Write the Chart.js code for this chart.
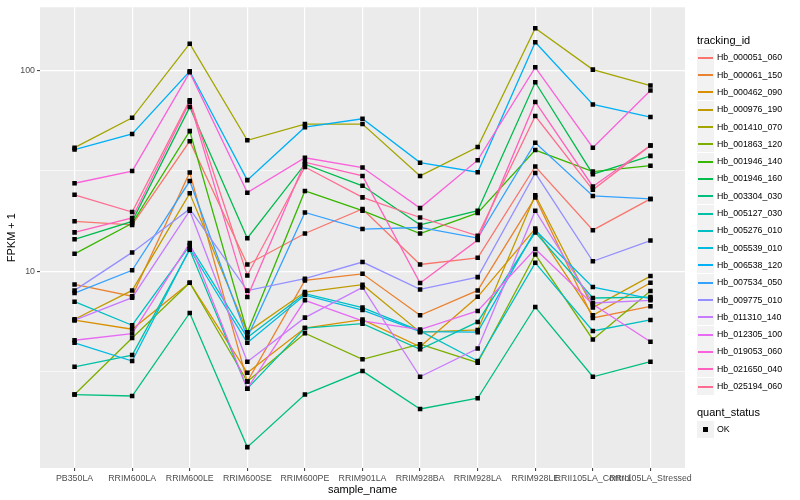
<!DOCTYPE html>
<html>
<head>
<meta charset="utf-8">
<script src="https://cdn.jsdelivr.net/npm/chart.js@4.4.1/dist/chart.umd.min.js"></script>
<style>
  html, body { margin: 0; padding: 0; background: #fff; }
  #wrap { position: relative; width: 800px; height: 500px; font-family: "Liberation Sans", Arial, sans-serif; }
  #chart { position: absolute; left: 0; top: 0; }
  .ttl { position: absolute; left: 697px; font-size: 11px; line-height: 13px; color: #000; white-space: nowrap; }
  .key { position: absolute; left: 697px; width: 17px; height: 17px; background: #f2f2f2; }
  .key .ln { position: absolute; left: 1px; right: 1px; top: 8px; height: 2px; }
  .key .pt { position: absolute; left: 6px; top: 6px; width: 5px; height: 5px; background: #000; }
  .lab { position: absolute; left: 717px; font-size: 8.8px; line-height: 10px; color: #000; white-space: nowrap; }
</style>
</head>
<body>
<div id="wrap">
  <canvas id="chart" width="800" height="500"></canvas>
  <div id="legend"></div>
</div>
<script>
const CATEGORIES = [
  'PB350LA', 'RRIM600LA', 'RRIM600LE', 'RRIM600SE', 'RRIM600PE', 'RRIM901LA',
  'RRIM928BA', 'RRIM928LA', 'RRIM928LE', 'RRII105LA_Control', 'RRII105LA_Stressed',
];
const Y_TICKS = [10, 100];
const Y_MINOR = [3.1623, 31.623];

// FPKM + 1, one value per sample
const hb_000051_060 = [17.7, 17.0, 44.4, 10.8, 15.4, 20.4, 10.8, 11.65, 33.2, 16.0, 22.9];
const hb_000061_150 = [8.59, 7.5, 31.0, 2.82, 8.99, 9.7, 6.03, 8.02, 23.3, 5.85, 6.68];
const hb_000462_090 = [5.70, 5.14, 8.76, 3.12, 5.21, 5.74, 4.20, 7.45, 16.3, 6.03, 8.76];
const hb_000976_190 = [5.76, 8.02, 24.4, 4.97, 7.87, 8.56, 4.97, 5.10, 23.9, 6.59, 9.45];
const hb_001410_070 = [41.2, 58.0, 135.7, 44.8, 54.0, 54.0, 29.8, 41.5, 162, 100.8, 84.0];
const hb_001863_120 = [2.43, 4.65, 8.76, 2.82, 4.91, 3.64, 4.33, 3.50, 12.1, 4.57, 7.96];
const hb_001946_140 = [12.2, 17.3, 49.8, 4.95, 25.1, 20.0, 15.4, 19.5, 40.1, 31.3, 33.5];
const hb_001946_160 = [14.4, 17.7, 65.6, 14.6, 34.1, 26.6, 17.0, 20.0, 87.2, 30.4, 37.5];
const hb_003304_030 = [2.43, 2.39, 6.19, 1.33, 2.43, 3.18, 2.06, 2.33, 6.63, 2.98, 3.54];
const hb_005127_030 = [3.34, 3.82, 12.8, 2.6, 5.21, 5.48, 4.08, 5.59, 15.6, 7.35, 7.43];
const hb_005276_010 = [7.05, 5.38, 13.4, 4.67, 7.73, 6.59, 5.04, 3.57, 11.0, 5.04, 5.72];
const hb_005539_010 = [4.40, 3.57, 12.9, 4.40, 7.6, 6.4, 5.0, 4.97, 16.0, 8.33, 7.30];
const hb_006538_120 = [40.3, 48.2, 98.9, 28.4, 52.1, 57.4, 34.7, 31.1, 138, 67.6, 58.5];
const hb_007534_050 = [7.78, 10.1, 28.1, 4.67, 19.6, 16.2, 16.5, 14.6, 43.6, 23.7, 22.9];
const hb_009775_010 = [8.02, 12.4, 20.4, 8.0, 9.17, 11.1, 8.11, 9.34, 30.8, 11.2, 14.2];
const hb_011310_140 = [5.7, 7.38, 20.0, 3.54, 5.87, 8.3, 2.98, 4.12, 20.0, 6.94, 7.16];
const hb_012305_100 = [4.53, 4.89, 13.8, 2.6, 7.16, 5.65, 5.12, 6.34, 12.9, 6.84, 4.45];
const hb_019053_060 = [27.4, 31.5, 97.7, 24.6, 36.7, 32.8, 20.6, 35.7, 103.5, 41.2, 79.3];
const hb_021650_040 = [15.6, 18.4, 69.6, 7.43, 34.9, 29.8, 8.72, 14.3, 69.6, 26.4, 42.2];
const hb_025194_060 = [24.0, 19.7, 71.0, 9.52, 33.0, 23.3, 18.5, 15.0, 59.2, 25.4, 42.2];

const TRACKING_IDS = [
  'Hb_000051_060', 'Hb_000061_150', 'Hb_000462_090', 'Hb_000976_190', 'Hb_001410_070',
  'Hb_001863_120', 'Hb_001946_140', 'Hb_001946_160', 'Hb_003304_030', 'Hb_005127_030',
  'Hb_005276_010', 'Hb_005539_010', 'Hb_006538_120', 'Hb_007534_050', 'Hb_009775_010',
  'Hb_011310_140', 'Hb_012305_100', 'Hb_019053_060', 'Hb_021650_040', 'Hb_025194_060',
];
const SERIES = [
  hb_000051_060, hb_000061_150, hb_000462_090, hb_000976_190, hb_001410_070,
  hb_001863_120, hb_001946_140, hb_001946_160, hb_003304_030, hb_005127_030,
  hb_005276_010, hb_005539_010, hb_006538_120, hb_007534_050, hb_009775_010,
  hb_011310_140, hb_012305_100, hb_019053_060, hb_021650_040, hb_025194_060,
];
// ggplot default hue palette for 20 levels
const COLORS = [
  '#F8766D', '#EA8331', '#D89000', '#C09B00', '#A3A500', '#7CAE00', '#39B600',
  '#00BB4E', '#00BF7D', '#00C1A3', '#00BFC4', '#00BAE0', '#00B0F6', '#35A2FF',
  '#9590FF', '#C77CFF', '#E76BF3', '#FA62DB', '#FF62BC', '#FF6C91',
];

const FONT = '"Liberation Sans", Arial, sans-serif';
Chart.defaults.font.family = FONT;

const toPoints = (vals) => vals.map((v, i) => ({ x: i, y: v }));

const lineSets = SERIES.map((vals, i) => ({
  label: TRACKING_IDS[i],
  data: toPoints(vals),
  borderColor: COLORS[i],
  backgroundColor: COLORS[i],
  borderWidth: 1.3,
  pointRadius: 0,
  tension: 0,
  order: 100 - i, // later levels drawn on top, like ggplot
}));

const pointSets = SERIES.map((vals, i) => ({
  label: TRACKING_IDS[i] + ' OK',
  data: toPoints(vals),
  showLine: false,
  pointStyle: 'rect',
  pointRadius: 3.2,
  pointBackgroundColor: '#000',
  pointBorderWidth: 0,
  order: 0,
}));

const panelBg = {
  id: 'panelBg',
  beforeDraw(chart) {
    const { ctx, chartArea: a } = chart;
    ctx.save();
    ctx.fillStyle = '#ebebeb';
    ctx.fillRect(a.left, a.top, a.right - a.left, a.bottom - a.top);
    ctx.restore();
  },
};

new Chart(document.getElementById('chart'), {
  type: 'line',
  data: { datasets: [...pointSets, ...lineSets] },
  options: {
    responsive: false,
    animation: false,
    events: [],
    layout: { padding: { left: 0, right: 115, top: 6, bottom: 0 } },
    plugins: { legend: { display: false }, tooltip: { enabled: false } },
    scales: {
      x: {
        type: 'linear',
        min: -0.6,
        max: 10.6,
        afterBuildTicks: (s) => { s.ticks = CATEGORIES.map((_, i) => ({ value: i })); },
        afterFit: (s) => { s.height = 32; },
        border: { display: false },
        grid: { color: '#ffffff', lineWidth: 1.2, tickLength: 3, tickColor: '#333333', tickWidth: 1 },
        ticks: {
          autoSkip: false, maxRotation: 0, minRotation: 0, padding: 2,
          color: '#4d4d4d', font: { size: 8.8 },
          callback: (v) => CATEGORIES[v],
        },
        title: {
          display: true, text: 'sample_name', color: '#000',
          font: { size: 11 }, padding: { top: 0, bottom: 3.4 },
        },
      },
      y: {
        type: 'logarithmic',
        min: 1.047,
        max: 206,
        afterBuildTicks: (s) => {
          s.ticks = [...Y_MINOR, ...Y_TICKS].sort((a, b) => a - b).map((v) => ({ value: v }));
        },
        afterFit: (s) => { s.width = 40; },
        border: { display: false },
        grid: {
          color: '#ffffff',
          lineWidth: (c) => (Y_TICKS.includes(c.tick.value) ? 1.2 : 0.6),
          tickLength: 3,
          tickWidth: 1,
          tickColor: (c) => (Y_TICKS.includes(c.tick.value) ? '#333333' : 'rgba(0,0,0,0)'),
        },
        ticks: {
          padding: 2, color: '#4d4d4d', font: { size: 8.8 },
          callback: (v) => (Y_TICKS.includes(v) ? String(v) : ''),
        },
        title: {
          display: true, text: 'FPKM + 1', color: '#000',
          font: { size: 11 }, padding: { top: 5.4, bottom: 0 },
        },
      },
    },
  },
  plugins: [panelBg],
});

// ---------- ggplot-style legend ----------
const legend = document.getElementById('legend');
function add(cls, top, html) {
  const d = document.createElement('div');
  d.className = cls;
  d.style.top = Math.round(top) + 'px';
  d.innerHTML = html;
  legend.appendChild(d);
  return d;
}
add('ttl', 34.2, 'tracking_id');
TRACKING_IDS.forEach((id, i) => {
  const cy = 57.3 + 17.3 * i;
  add('key', cy - 8.5, `<div class="ln" style="background:${COLORS[i]}"></div>`);
  add('lab', cy - 5, id);
});
add('ttl', 406.2, 'quant_status');
add('key', 429 - 8.5, '<div class="pt"></div>');
add('lab', 429 - 5, 'OK');
</script>
</body>
</html>
